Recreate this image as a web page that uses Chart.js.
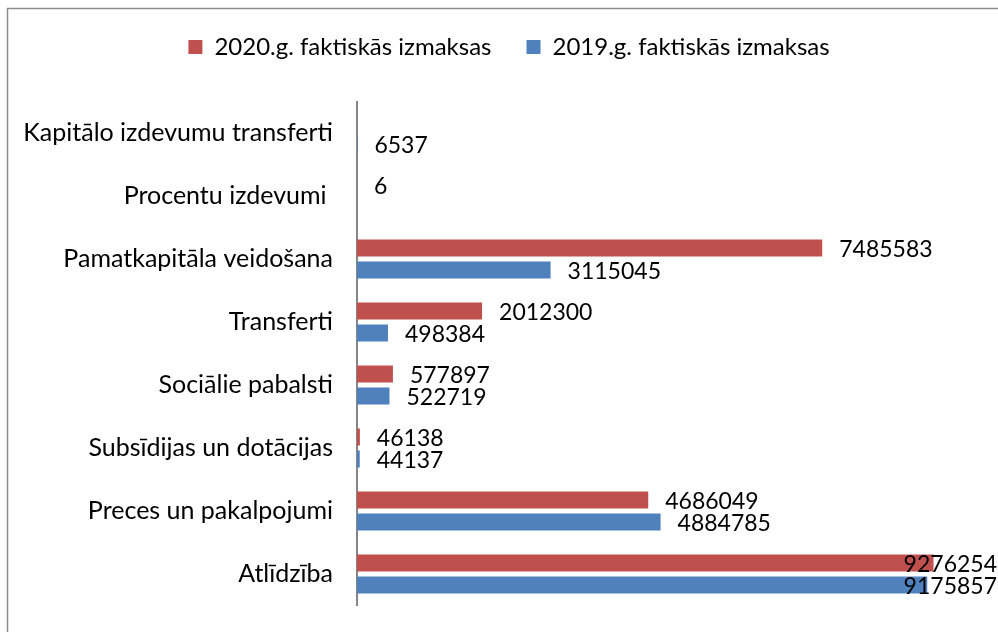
<!DOCTYPE html>
<html>
<head>
<meta charset="utf-8">
<script src="https://cdn.jsdelivr.net/npm/chart.js@4"></script>
<style>
    html, body { margin: 0; padding: 0; background: #fff; }
    #wrap { position: relative; width: 998px; height: 632px; }
</style>
</head>
<body>
<div id="wrap"><canvas id="chart" width="998" height="632"></canvas></div>
<script>
// Categories top to bottom
const categories = [
    'Kapitālo izdevumu transferti',
    'Procentu izdevumi ',
    'Pamatkapitāla veidošana',
    'Transferti',
    'Sociālie pabalsti',
    'Subsīdijas un dotācijas',
    'Preces un pakalpojumi',
    'Atlīdzība'
];
const values2020 = [null, 6, 7485583, 2012300, 577897, 46138, 4686049, 9276254];
const values2019 = [6537, null, 3115045, 498384, 522719, 44137, 4884785, 9175857];
const seriesNames = ['2020.g. faktiskās izmaksas', '2019.g. faktiskās izmaksas'];

const FONT = 'Lato, "Open Sans", sans-serif';

// value labels to the right of each bar, kept inside the canvas
const valueLabels = {
    id: 'valueLabels',
    afterDatasetsDraw(chart) {
        const ctx = chart.ctx;
        ctx.save();
        ctx.font = '23px ' + FONT;
        ctx.fillStyle = '#000';
        ctx.textBaseline = 'middle';
        ctx.textAlign = 'left';
        chart.data.datasets.forEach((ds, i) => {
            chart.getDatasetMeta(i).data.forEach((bar, j) => {
                const v = ds.data[j];
                if (v === null) return;
                const txt = String(v);
                let x = bar.x + 17;
                const w = ctx.measureText(txt).width;
                if (x + w > chart.width - 1) x = chart.width - 1 - w;
                ctx.fillText(txt, x, bar.y + 2);
            });
        });
        ctx.restore();
    }
};

// outer chart frame (left and top edges visible, the rest is cut off)
const frame = {
    id: 'frame',
    beforeDraw(chart) {
        const ctx = chart.ctx;
        ctx.save();
        ctx.strokeStyle = '#8c8c8c';
        ctx.lineWidth = 1.5;
        ctx.beginPath();
        ctx.moveTo(7.5, chart.height + 5);
        ctx.lineTo(7.5, 8.5);
        ctx.lineTo(chart.width + 5, 8.5);
        ctx.stroke();
        ctx.restore();
    }
};

new Chart(document.getElementById('chart'), {
    type: 'bar',
    data: {
        labels: categories,
        datasets: [
            { label: seriesNames[0], data: values2020, backgroundColor: '#C0504D' },
            { label: seriesNames[1], data: values2019, backgroundColor: '#4F81BD' }
        ]
    },
    options: {
        indexAxis: 'y',
        responsive: false,
        animation: false,
        categoryPercentage: 0.70,
        barPercentage: 0.77,
        // the original chart runs past the right edge of the picture
        layout: { padding: { top: 0, right: 0, bottom: 26.5, left: 20 } },
        plugins: {
            legend: {
                position: 'top',
                labels: {
                    font: { family: FONT, size: 24 },
                    color: '#000',
                    boxWidth: 14,
                    boxHeight: 14,
                    padding: 35
                }
            },
            tooltip: { enabled: false }
        },
        scales: {
            // hidden value axis on top, only used as spacer below the legend
            x: {
                position: 'top',
                min: 0,
                max: 10314000,
                ticks: { display: false },
                grid: { display: false },
                border: { display: false },
                afterFit(scale) { scale.height = 32.5; }
            },
            y: {
                grid: { display: true, drawOnChartArea: false, drawTicks: true, tickLength: 24, tickColor: 'rgba(0,0,0,0)' },
                border: { display: true, color: '#868686', width: 2 },
                ticks: {
                    font: { family: FONT, size: 25 },
                    color: '#000',
                    padding: 0
                },
                afterFit(scale) { scale.width = 337; }
            }
        }
    },
    plugins: [valueLabels, frame]
});
</script>
</body>
</html>
